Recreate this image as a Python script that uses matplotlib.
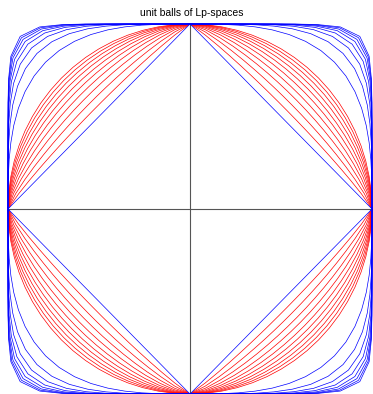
"""
Unit balls of Lp-spaces: |x|^p + |y|^p = 1 for several p, sampled in polar angle.
"""

import numpy as np
import matplotlib.pyplot as plt

# p values drawn in red (between the diamond and the circle)
red_p = [1.1, 1.2, 1.3, 1.4, 1.5, 1.6, 1.7, 1.8, 1.9, 2.0]
# p values drawn in blue (the diamond and the balls outside the circle)
blue_p = [1, 3, 4, 5, 6, 7, 8, 9, 10]

# polar sampling step in degrees
step_deg = 5


def unit_ball(p, step=step_deg):
    """Return x, y of the Lp unit sphere sampled at equal angle steps."""
    theta = np.deg2rad(np.arange(0, 360 + step, step))
    c, s = np.cos(theta), np.sin(theta)
    r = (np.abs(c) ** p + np.abs(s) ** p) ** (-1.0 / p)
    return r * c, r * s


fig = plt.figure(figsize=(3.73, 3.94), dpi=100)
ax = fig.add_axes([0, 0, 1, 1])

# pixel placement of the plot: centre (190, 209), radii 182 x 185
cx, cy, rx, ry = 190.0, 209.0, 182.0, 185.0
ax.set_xlim(-cx / rx, (373 - cx) / rx)
ax.set_ylim(-(394 - cy) / ry, cy / ry)
ax.axis('off')

# coordinate axes
ax.hlines(0, -1, 1, color='#555555', linewidth=0.8)
ax.vlines(0, -1, 1, color='#555555', linewidth=0.8)

for p in red_p:
    x, y = unit_ball(p)
    ax.plot(x, y, color='red', linewidth=0.5, clip_on=False)

for p in blue_p:
    x, y = unit_ball(p)
    ax.plot(x, y, color='blue', linewidth=0.5, clip_on=False)

fig.text(191.5 / 373, 1 - 12.5 / 394, 'unit balls of Lp-spaces',
         ha='center', va='center', fontsize=7.5, family='Liberation Sans')

plt.savefig('out.png', dpi=100)
